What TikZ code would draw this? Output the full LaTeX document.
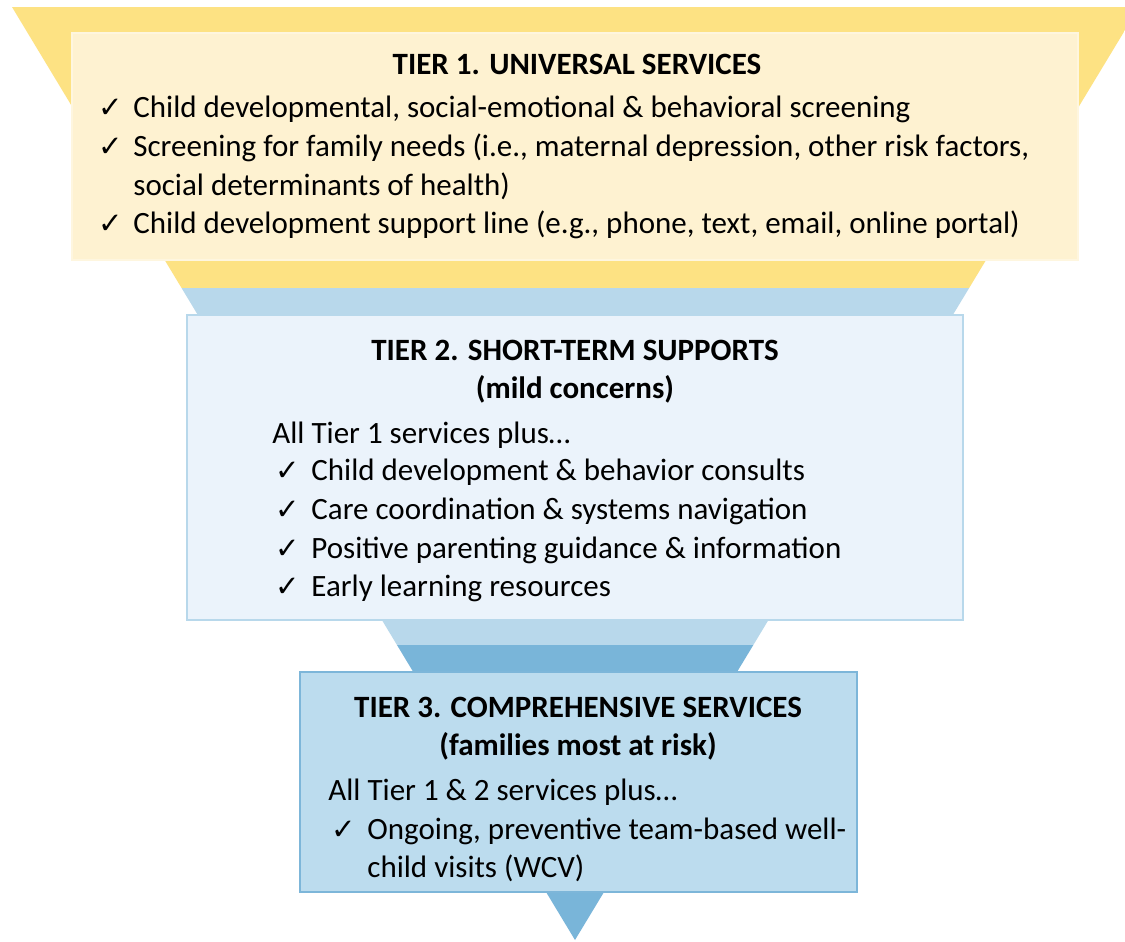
\documentclass[tikz,border=0pt]{standalone}
\usepackage{fontspec}
\setmainfont{Carlito}
\newfontfamily\symfont{DejaVu Sans}
\usetikzlibrary{positioning}
\definecolor{funyel}{HTML}{FDE283}
\definecolor{boxyel}{HTML}{FEF2D1}
\definecolor{funblc}{HTML}{B8D8EB}
\definecolor{funbdk}{HTML}{79B5D9}
\definecolor{boxblc}{HTML}{EBF3FB}
\definecolor{boxbdk}{HTML}{BCDCEE}
\definecolor{bordk}{HTML}{7DB6D9}
\newcommand{\taille}{\fontsize{15.5}{19}\selectfont}
\newcommand{\chk}{{\symfont\fontsize{14.6}{18}\selectfont\char"2713}}
\tikzstyle{titre} = [font=\taille\bfseries, anchor=base, inner sep=0pt]
\tikzstyle{ligne} = [font=\taille, anchor=base west, inner sep=0pt]

\begin{document}
\begin{tikzpicture}[x=0.5pt,y=-0.5pt]
	\useasboundingbox (0,0) rectangle (1125,942);
	\fill[white] (0,0) rectangle (1125,942);

	% entonnoir
	\begin{scope}
		\clip (0,0) rectangle (1125,942);
		\clip (12,7) -- (1139,7) -- (575,940) -- cycle;
		\fill[funyel] (0,0) rectangle (1140,288);
		\fill[funblc] (0,288) rectangle (1140,645);
		\fill[funbdk] (0,645) rectangle (1140,942);
	\end{scope}

	% tier 1
	\draw[fill=boxyel, draw=boxyel!70!white, line width=1pt] (72,33) rectangle (1078,260);
	\node[titre] (t1titre) at (577,74) {TIER 1. UNIVERSAL SERVICES};
	\node[ligne] (t1c1) at (98,117) {\chk};
	\node[ligne] (t1l1) at (133,117) {Child developmental, social-emotional \& behavioral screening};
	\node[ligne] (t1c2) at (98,156) {\chk};
	\node[ligne] (t1l2) at (133,156) {Screening for family needs (i.e., maternal depression, other risk factors,};
	\node[ligne] (t1l3) at (133,195) {social determinants of health)};
	\node[ligne] (t1c4) at (98,233) {\chk};
	\node[ligne] (t1l4) at (133,233) {Child development support line (e.g., phone, text, email, online portal)};

	% tier 2
	\draw[fill=boxblc, draw=funblc, line width=1pt] (187,315) rectangle (963,620);
	\node[titre] (t2titre) at (575,360) {TIER 2. SHORT-TERM SUPPORTS};
	\node[titre] (t2sous) at (575,398) {(mild concerns)};
	\node[ligne] (t2intro) at (272,443) {All Tier 1 services plus\ldots};
	\node[ligne] (t2c1) at (275,480) {\chk};
	\node[ligne] (t2l1) at (311,480) {Child development \& behavior consults};
	\node[ligne] (t2c2) at (275,519) {\chk};
	\node[ligne] (t2l2) at (311,519) {Care coordination \& systems navigation};
	\node[ligne] (t2c3) at (275,558) {\chk};
	\node[ligne] (t2l3) at (311,558) {Positive parenting guidance \& information};
	\node[ligne] (t2c4) at (275,596) {\chk};
	\node[ligne] (t2l4) at (311,596) {Early learning resources};

	% tier 3
	\draw[fill=boxbdk, draw=bordk, line width=1.3pt] (300,672) rectangle (857,892);
	\node[titre] (t3titre) at (578,717) {TIER 3. COMPREHENSIVE SERVICES};
	\node[titre] (t3sous) at (578,755) {(families most at risk)};
	\node[ligne] (t3intro) at (328,800) {All Tier 1 \& 2 services plus\ldots};
	\node[ligne] (t3c1) at (331,839) {\chk};
	\node[ligne] (t3l1) at (367,839) {Ongoing, preventive team-based well-};
	\node[ligne] (t3l2) at (367,877) {child visits (WCV)};
\end{tikzpicture}
\end{document}
